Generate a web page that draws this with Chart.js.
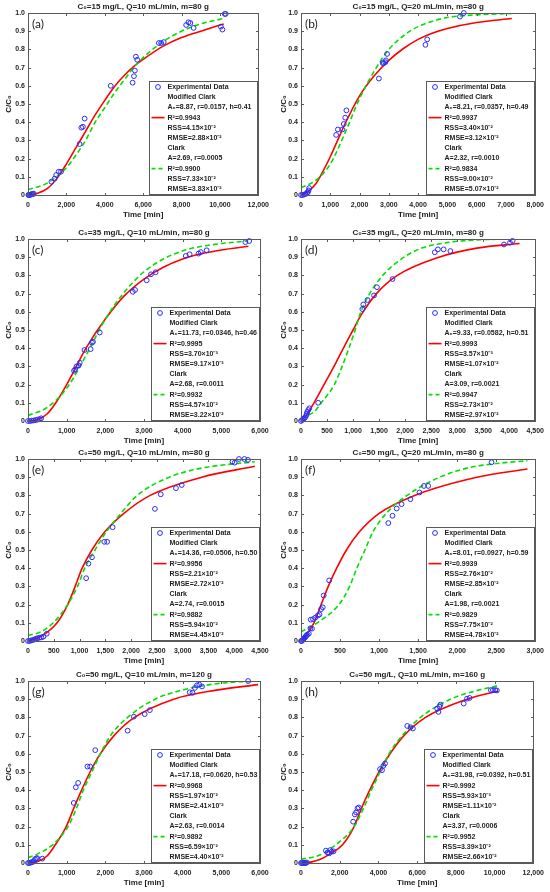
<!DOCTYPE html>
<html><head><meta charset="utf-8">
<script src="https://cdn.jsdelivr.net/npm/chart.js@4.4.1/dist/chart.umd.min.js"></script>
<style>
html,body{margin:0;padding:0;background:#fff;overflow:hidden;width:550px;height:892px;}
canvas{position:absolute;}
</style></head><body>
<script>
// ---------- tick / label data ----------
const titles = ['C₀=15 mg/L, Q=10 mL/min, m=80 g','C₀=15 mg/L, Q=20 mL/min, m=80 g','C₀=35 mg/L, Q=10 mL/min, m=80 g','C₀=35 mg/L, Q=20 mL/min, m=80 g','C₀=50 mg/L, Q=10 mL/min, m=80 g','C₀=50 mg/L, Q=20 mL/min, m=80 g','C₀=50 mg/L, Q=10 mL/min, m=120 g','C₀=50 mg/L, Q=10 mL/min, m=160 g'];
const panelTags = ['(a)','(b)','(c)','(d)','(e)','(f)','(g)','(h)'];
const xMax = [12000,8000,6000,4500,4500,3000,6000,12000];
const xStep = [2000,1000,1000,500,500,500,1000,2000];
const modParams = ['A₀=8.87, r=0.0157, h=0.41','A₀=8.21, r=0.0357, h=0.49','A₀=11.73, r=0.0346, h=0.46','A₀=9.33, r=0.0582, h=0.51','A₀=14.36, r=0.0506, h=0.50','A₀=8.01, r=0.0927, h=0.59','A₀=17.18, r=0.0620, h=0.53','A₀=31.98, r=0.0392, h=0.51'];
const modR2 = ['0.9943','0.9937','0.9995','0.9993','0.9956','0.9939','0.9968','0.9992'];
const modRSS = ['4.15×10⁻²','3.40×10⁻²','3.70×10⁻³','3.57×10⁻³','2.21×10⁻²','2.76×10⁻²','1.97×10⁻²','5.93×10⁻³'];
const modRMSE = ['2.88×10⁻²','3.12×10⁻²','9.17×10⁻³','1.07×10⁻²','2.72×10⁻²','2.85×10⁻²','2.41×10⁻²','1.11×10⁻²'];
const clkParams = ['A=2.69, r=0.0005','A=2.32, r=0.0010','A=2.68, r=0.0011','A=3.09, r=0.0021','A=2.74, r=0.0015','A=1.98, r=0.0021','A=2.63, r=0.0014','A=3.37, r=0.0006'];
const clkR2 = ['0.9900','0.9834','0.9932','0.9947','0.9882','0.9829','0.9892','0.9952'];
const clkRSS = ['7.33×10⁻²','9.00×10⁻²','4.57×10⁻²','2.73×10⁻²','5.94×10⁻²','7.75×10⁻²','6.59×10⁻²','3.39×10⁻²'];
const clkRMSE = ['3.83×10⁻²','5.07×10⁻²','3.22×10⁻²','2.97×10⁻²','4.45×10⁻²','4.78×10⁻²','4.40×10⁻²','2.66×10⁻²'];

// ---------- (a) ----------
const expTa = [20,50,100,150,200,250,300,1220,1390,1470,1600,1720,2690,2780,2860,2950,4310,5450,5520,5570,5620,5690,6820,6940,7070,8240,8360,8460,8630,10050,10130,10250,10300];
const expYa = [0,0,0,0.003,0.005,0.005,0.007,0.073,0.09,0.11,0.128,0.128,0.28,0.37,0.375,0.42,0.6,0.617,0.653,0.684,0.76,0.743,0.835,0.835,0.84,0.934,0.949,0.945,0.918,0.925,0.909,0.995,0.995];
const modTa = [0,500,1000,1500,2000,2500,3000,3500,4000,4500,5000,5500,6000,7000,8000,9000,10200];
const modYa = [0,0.01,0.035,0.09,0.17,0.26,0.35,0.44,0.52,0.595,0.655,0.705,0.745,0.815,0.865,0.9,0.94];
const clkTa = [0,1000,2000,2500,3000,3500,4000,4500,5000,5500,6000,7000,8000,9000,10200];
const clkYa = [0.03,0.065,0.15,0.22,0.3,0.4,0.48,0.56,0.63,0.7,0.755,0.84,0.9,0.94,0.97];
// ---------- (b) ----------
const expTb = [0,50,100,150,200,230,260,280,1200,1260,1410,1460,1510,1550,2660,2790,2830,2880,2900,2940,4250,4310,5430,5560];
const expYb = [0,0,0.002,0.005,0.01,0.015,0.025,0.038,0.33,0.36,0.36,0.39,0.425,0.465,0.64,0.725,0.725,0.73,0.74,0.775,0.825,0.855,0.98,1.0];
const modTb = [0,250,500,750,1000,1250,1500,2000,2500,3000,3500,4000,4500,5000,6000,7200];
const modYb = [0,0.02,0.06,0.13,0.21,0.3,0.39,0.545,0.655,0.74,0.805,0.855,0.89,0.915,0.948,0.97];
const clkTb = [0,500,1000,1500,2000,2500,3000,3500,4000,4500,5000,6000,7200];
const clkYb = [0.04,0.08,0.17,0.34,0.53,0.68,0.8,0.875,0.925,0.955,0.975,0.99,0.997];
// ---------- (c) ----------
const expTc = [0,50,100,150,200,250,300,340,1190,1220,1255,1310,1340,1460,1620,1655,1680,1855,2710,2770,3070,3180,3300,4080,4180,4410,4470,4620,5620,5720];
const expYc = [0,0,0.002,0.003,0.005,0.008,0.01,0.015,0.276,0.284,0.3,0.305,0.32,0.39,0.395,0.43,0.435,0.486,0.71,0.72,0.773,0.806,0.817,0.907,0.916,0.92,0.928,0.938,0.983,0.989];
const modTc = [0,250,500,750,1000,1250,1500,2000,2500,3000,3500,4000,4500,5000,5700];
const modYc = [0,0.008,0.04,0.11,0.2,0.3,0.4,0.56,0.69,0.78,0.845,0.89,0.92,0.94,0.96];
const clkTc = [0,500,1000,1500,2000,2500,3000,3500,4000,4500,5000,5700];
const clkYc = [0.03,0.075,0.18,0.36,0.56,0.71,0.82,0.89,0.935,0.96,0.975,0.99];
// ---------- (d) ----------
const expTd = [0,20,40,60,80,100,110,120,140,160,330,1178,1197,1278,1403,1459,1758,2570,2630,2740,2870,3900,4015,4065];
const expYd = [0,0.005,0.01,0.015,0.02,0.03,0.04,0.05,0.06,0.07,0.1,0.615,0.64,0.665,0.69,0.735,0.78,0.927,0.943,0.943,0.934,0.97,0.98,0.99];
const modTd = [0,100,250,500,670,850,1000,1150,1450,1850,2650,3380,4200];
const modYd = [0,0.03,0.1,0.23,0.32,0.42,0.5,0.58,0.7,0.8,0.9,0.95,0.975];
const clkTd = [0,250,390,640,790,920,1040,1150,1320,1570,1980,2320,2800,3380,4200];
const clkYd = [0.02,0.05,0.1,0.2,0.3,0.4,0.5,0.6,0.7,0.8,0.9,0.95,0.98,0.995,1.0];
// ---------- (e) ----------
const expTe = [0,30,60,90,120,150,180,220,260,300,364,1128,1172,1241,1479,1535,1642,2462,2575,2870,2982,3966,4010,4092,4198,4267];
const expYe = [0,0,0.003,0.005,0.008,0.012,0.015,0.018,0.02,0.024,0.04,0.345,0.425,0.46,0.545,0.545,0.625,0.726,0.806,0.84,0.857,0.985,0.98,1.0,1.0,0.995];
const modTe = [0,250,564,770,915,1050,1240,1490,1855,2370,3370,4400];
const modYe = [0,0.025,0.1,0.2,0.3,0.4,0.5,0.6,0.7,0.8,0.9,0.96];
const clkTe = [0,250,490,770,960,1100,1300,1520,1800,2120,2740,3370,4400];
const clkYe = [0.03,0.05,0.1,0.2,0.3,0.4,0.5,0.6,0.7,0.8,0.9,0.95,0.985];
// ---------- (f) ----------
const expTf = [0,10,20,30,40,50,60,70,80,100,120,125,141,154,183,216,237,258,279,291,361,1118,1172,1226,1288,1401,1517,1575,1629,2440];
const expYf = [0,0,0.005,0.01,0.015,0.02,0.025,0.03,0.035,0.04,0.07,0.117,0.068,0.12,0.128,0.14,0.146,0.175,0.185,0.25,0.333,0.648,0.688,0.728,0.752,0.779,0.816,0.852,0.852,0.982];
const modTf = [0,80,166,258,349,457,582,748,997,1455,2253,2900];
const modYf = [0,0.04,0.1,0.2,0.3,0.4,0.5,0.6,0.7,0.8,0.9,0.945];
const clkTf = [0,208,486,623,715,819,922,1089,1359,1775,2128,2500,2900];
const clkYf = [0.05,0.1,0.2,0.3,0.4,0.5,0.6,0.7,0.8,0.9,0.95,0.975,0.99];
// ---------- (g) ----------
const expTg = [0,30,60,90,120,150,180,210,238,370,1183,1236,1297,1536,1606,1739,2577,2736,3018,3151,4183,4254,4316,4369,4431,4501,5693];
const expYg = [0,0,0.002,0.004,0.005,0.01,0.02,0.025,0.027,0.024,0.33,0.416,0.44,0.53,0.53,0.62,0.727,0.804,0.818,0.84,0.938,0.935,0.962,0.976,0.98,0.97,1.0];
const modTg = [0,250,500,706,988,1183,1386,1606,1871,2224,2754,3769,4872,5950];
const modYg = [0,0.008,0.04,0.1,0.2,0.3,0.4,0.5,0.6,0.7,0.8,0.9,0.95,0.98];
const clkTg = [0,250,635,1033,1253,1430,1650,1871,2136,2577,3283,3989,4700,5400,5800];
const clkYg = [0.03,0.05,0.1,0.2,0.3,0.4,0.5,0.6,0.7,0.8,0.9,0.95,0.98,0.995,0.997];
// ---------- (h) ----------
const expTh = [0,50,100,150,200,250,300,1286,1372,1458,1509,1578,1681,2693,2779,2847,2916,2985,4082,4185,4254,4340,5489,5660,5780,7033,7100,7150,7200,8405,8576,8713,9811,9914,10034,10120];
const expYh = [0,0,0,0,0,0,0.003,0.068,0.058,0.053,0.071,0.062,0.064,0.227,0.267,0.278,0.3,0.305,0.516,0.51,0.534,0.547,0.753,0.746,0.739,0.848,0.83,0.86,0.87,0.876,0.903,0.907,0.95,0.95,0.95,0.948];
const modTh = [0,500,1000,1500,2144,2744,3121,3550,4030,4597,5317,6432,8576,10200];
const modYh = [0,0.005,0.02,0.05,0.1,0.2,0.3,0.4,0.5,0.6,0.7,0.8,0.9,0.945];
const clkTh = [0,1000,1800,2744,3224,3636,4082,4545,5231,6174,7718,9000,10200];
const clkYh = [0.02,0.045,0.1,0.2,0.3,0.4,0.5,0.6,0.7,0.8,0.9,0.945,0.975];

const expT = [expTa,expTb,expTc,expTd,expTe,expTf,expTg,expTh];
const expY = [expYa,expYb,expYc,expYd,expYe,expYf,expYg,expYh];
const modT = [modTa,modTb,modTc,modTd,modTe,modTf,modTg,modTh];
const modY = [modYa,modYb,modYc,modYd,modYe,modYf,modYg,modYh];
const clkT = [clkTa,clkTb,clkTc,clkTd,clkTe,clkTf,clkTg,clkTh];
const clkY = [clkYa,clkYb,clkYc,clkYd,clkYe,clkYf,clkYg,clkYh];

// ---------- layout / style ----------
const FONT = "'Liberation Sans', Arial, Helvetica, sans-serif";
const INK = '#1e1e1e';
const BOX = '#5a5a5a';
const BLUE = '#2a2aff', RED = '#ff0000', GREEN = '#00e000';
const colLeft = [0, 275];
const yAxisW = [28, 26];
const padRight = [15, 13];
const rowTop = [13, 239, 459, 681];
const TOPPAD = 13, PLOTH = 182, BOTH = 28, CW = 275;

function pts(t, y) { return t.map((v, k) => ({x: v, y: y[k]})); }

const framePlugin = {
  id: 'frame',
  afterDraw(chart, args, o) {
    const i = o.idx;
    const ctx = chart.ctx, a = chart.chartArea;
    const xs = chart.scales.x, ys = chart.scales.y;
    ctx.save();
    ctx.strokeStyle = BOX; ctx.lineWidth = 1;
    const L = Math.round(a.left) + 0.5, T = Math.round(a.top) + 0.5;
    const R = Math.round(a.right) + 0.5, B = Math.round(a.bottom) + 0.5;
    ctx.strokeRect(L, T, R - L, B - T);
    ctx.beginPath();
    xs.ticks.forEach(t => {
      const p = Math.round(xs.getPixelForValue(t.value)) + 0.5;
      ctx.moveTo(p, B); ctx.lineTo(p, B - 2.5);
      ctx.moveTo(p, T); ctx.lineTo(p, T + 2.5);
    });
    ys.ticks.forEach(t => {
      const p = Math.round(ys.getPixelForValue(t.value)) + 0.5;
      ctx.moveTo(L, p); ctx.lineTo(L + 2.5, p);
      ctx.moveTo(R, p); ctx.lineTo(R - 2.5, p);
    });
    ctx.stroke();

    // title
    ctx.fillStyle = INK;
    ctx.font = 'bold 8px ' + FONT;
    ctx.textAlign = 'center'; ctx.textBaseline = 'middle';
    ctx.fillText(titles[i], (a.left + a.right) / 2, a.top - 6.5);
    // x title
    ctx.fillText('Time [min]', (a.left + a.right) / 2, a.bottom + 19.5);
    // y title
    ctx.save();
    ctx.translate(8.5, (a.top + a.bottom) / 2);
    ctx.rotate(-Math.PI / 2);
    ctx.fillText('C/C₀', 0, 0);
    ctx.restore();
    // panel tag
    ctx.font = '12px Lato, ' + FONT;
    ctx.textAlign = 'left';
    ctx.fillText(panelTags[i], a.left + 4, a.top + 11.5);

    // legend
    const LW = 108, LH = 113;
    const lx = Math.round(a.right - 1 - LW) + 0.5, ly = Math.round(a.bottom - 1.5 - LH) + 0.5;
    ctx.fillStyle = '#fff';
    ctx.fillRect(lx, ly, LW, LH);
    ctx.strokeStyle = BOX; ctx.lineWidth = 1;
    ctx.strokeRect(lx, ly, LW, LH);
    const rows = ['Experimental Data', 'Modified Clark', modParams[i], 'R²=' + modR2[i], 'RSS=' + modRSS[i], 'RMSE=' + modRMSE[i],
                  'Clark', clkParams[i], 'R²=' + clkR2[i], 'RSS=' + clkRSS[i], 'RMSE=' + clkRMSE[i]];
    ctx.font = 'bold 7px ' + FONT;
    ctx.fillStyle = INK; ctx.textAlign = 'left'; ctx.textBaseline = 'middle';
    const rowY = r => ly + 5.5 + r * 10.2;
    rows.forEach((s, r) => ctx.fillText(s, lx + 18, rowY(r)));
    // markers
    ctx.strokeStyle = BLUE; ctx.lineWidth = 1;
    ctx.beginPath(); ctx.arc(lx + 8.5, rowY(0), 2.4, 0, Math.PI * 2); ctx.stroke();
    ctx.strokeStyle = RED; ctx.lineWidth = 1.6;
    ctx.beginPath(); ctx.moveTo(lx + 2, rowY(3)); ctx.lineTo(lx + 15, rowY(3)); ctx.stroke();
    ctx.strokeStyle = GREEN; ctx.setLineDash([4, 3]);
    ctx.beginPath(); ctx.moveTo(lx + 2, rowY(8)); ctx.lineTo(lx + 16, rowY(8)); ctx.stroke();
    ctx.setLineDash([]);
    ctx.restore();
  }
};

for (let i = 0; i < 8; i++) {
  const col = i % 2, row = Math.floor(i / 2);
  const cv = document.createElement('canvas');
  const H = TOPPAD + PLOTH + BOTH;
  cv.width = CW; cv.height = H;
  cv.style.left = colLeft[col] + 'px';
  cv.style.top = (rowTop[row] - TOPPAD) + 'px';
  cv.style.width = CW + 'px'; cv.style.height = H + 'px';
  document.body.appendChild(cv);
  const tickFont = {family: FONT, size: 7, weight: 'bold'};
  new Chart(cv, {
    type: 'scatter',
    data: {
      datasets: [
        {type: 'scatter', label: 'Experimental Data', data: pts(expT[i], expY[i]), pointStyle: 'circle', pointRadius: 2.4,
         borderColor: BLUE, backgroundColor: 'rgba(0,0,0,0)', borderWidth: 1, clip: false},
        {type: 'line', label: 'Clark', data: pts(clkT[i], clkY[i]), showLine: true, borderColor: GREEN, borderWidth: 1.6,
         borderDash: [5, 3], pointRadius: 0, fill: false, cubicInterpolationMode: 'monotone'},
        {type: 'line', label: 'Modified Clark', data: pts(modT[i], modY[i]), showLine: true, borderColor: RED, borderWidth: 1.6,
         pointRadius: 0, fill: false, cubicInterpolationMode: 'monotone'}
      ]
    },
    options: {
      responsive: false, animation: false, events: [],
      layout: {padding: {top: TOPPAD, right: padRight[col], left: 0, bottom: 0}},
      plugins: {legend: {display: false}, tooltip: {enabled: false}, title: {display: false}, frame: {idx: i}},
      scales: {
        x: {type: 'linear', position: 'bottom', min: 0, max: xMax[i],
            ticks: {stepSize: xStep[i], autoSkip: false, maxRotation: 0, minRotation: 0, padding: 6, color: INK, font: tickFont},
            grid: {display: false, drawTicks: false}, border: {display: false},
            afterFit: s => { s.height = BOTH; }},
        y: {type: 'linear', position: 'left', min: 0, max: 1,
            ticks: {stepSize: 0.1, padding: 3, color: INK, font: tickFont},
            grid: {display: false, drawTicks: false}, border: {display: false},
            afterFit: s => { s.width = yAxisW[col]; }}
      }
    },
    plugins: [framePlugin]
  });
}
</script>
</body></html>
